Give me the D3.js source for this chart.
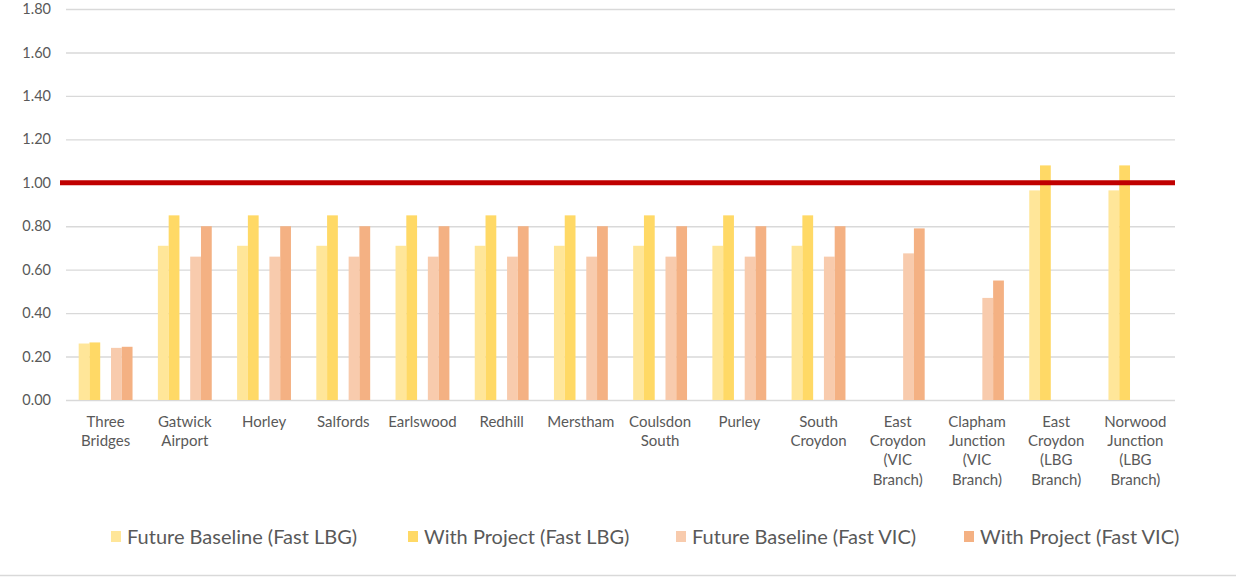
<!DOCTYPE html>
<html><head><meta charset="utf-8">
<script src="https://cdn.jsdelivr.net/npm/d3@7"></script>
<style>body{margin:0;background:#fff;} svg{display:block;font-family:Lato, "Liberation Sans", sans-serif;}</style>
</head><body>
<svg id="c" width="1236" height="577"></svg>
<script>
const categories = [
  ["Three","Bridges"],["Gatwick","Airport"],["Horley"],["Salfords"],["Earlswood"],["Redhill"],
  ["Merstham"],["Coulsdon","South"],["Purley"],["South","Croydon"],
  ["East","Croydon","(VIC","Branch)"],["Clapham","Junction","(VIC","Branch)"],
  ["East","Croydon","(LBG","Branch)"],["Norwood","Junction","(LBG","Branch)"]
];
const seriesNames = ["Future Baseline (Fast LBG)","With Project (Fast LBG)","Future Baseline (Fast VIC)","With Project (Fast VIC)"];
const fbLBG = [0.26,0.71,0.71,0.71,0.71,0.71,0.71,0.71,0.71,0.71,null,null,0.965,0.965];
const wpLBG = [0.265,0.85,0.85,0.85,0.85,0.85,0.85,0.85,0.85,0.85,null,null,1.08,1.08];
const fbVIC = [0.24,0.66,0.66,0.66,0.66,0.66,0.66,0.66,0.66,0.66,0.675,0.47,null,null];
const wpVIC = [0.245,0.80,0.80,0.80,0.80,0.80,0.80,0.80,0.80,0.80,0.79,0.55,null,null];
const yTicks = [0,0.2,0.4,0.6,0.8,1.0,1.2,1.4,1.6,1.8];
const threshold = 1.0;
const colors = ["#ffe699","#ffd966","#f8cbad","#f4b183"];

const svg = d3.select("#c");
const pL = 66, pR = 1175, pT = 9, pB = 400;
const x = d3.scaleBand().domain(d3.range(categories.length)).range([pL,pR]).paddingInner(0.32).paddingOuter(0.16);
const slot = d3.scaleBand().domain([0,1,2,3,4]).range([0,x.bandwidth()]);
const slotIdx = [0,1,3,4];
const y = d3.scaleLinear().domain([0,1.8]).range([pB,pT]);

// gridlines
svg.append("g").selectAll("line").data(yTicks).join("line")
  .attr("x1",pL).attr("x2",pR)
  .attr("y1",d=>y(d)+0.5).attr("y2",d=>y(d)+0.5)
  .attr("stroke","#d9d9d9").attr("stroke-width",1.4);

// y axis labels
const yAxis = d3.axisLeft(y).tickValues(yTicks).tickFormat(d3.format(".2f")).tickSize(0).tickPadding(15);
const ya = svg.append("g").attr("transform",`translate(${pL},0)`).call(yAxis);
ya.select(".domain").remove();
ya.selectAll("text").attr("fill","#595959").style("font-size","14.5px").style("font-family","Lato, sans-serif");

// bars
const allSeries = [fbLBG,wpLBG,fbVIC,wpVIC];
allSeries.forEach((vals,si)=>{
  svg.append("g").selectAll("rect").data(vals.map((v,i)=>({v,i})).filter(d=>d.v!=null)).join("rect")
    .attr("x",d=>x(d.i)+slot(slotIdx[si]))
    .attr("width",slot.bandwidth())
    .attr("y",d=>y(d.v))
    .attr("height",d=>y(0)-y(d.v))
    .attr("fill",colors[si]);
});

// threshold line
svg.append("line").attr("x1",60).attr("x2",pR)
  .attr("y1",y(threshold)).attr("y2",y(threshold))
  .attr("stroke","#c00000").attr("stroke-width",5);

// category labels
const xa = svg.append("g");
categories.forEach((lines,i)=>{
  const t = xa.append("text").attr("text-anchor","middle").attr("fill","#595959")
    .style("font-size","15px");
  lines.forEach((ln,j)=>{
    t.append("tspan").attr("x",x(i)+x.bandwidth()/2).attr("y",427+j*19.2).text(ln);
  });
});

// legend
const legX = [111,408,676,964];
const lg = svg.append("g");
seriesNames.forEach((n,i)=>{
  lg.append("rect").attr("x",legX[i]).attr("y",531).attr("width",10).attr("height",11).attr("fill",colors[i]);
  lg.append("text").attr("x",legX[i]+16).attr("y",543.5).attr("fill","#595959")
    .style("font-size","20px").text(n);
});

// bottom border line
svg.append("line").attr("x1",0).attr("x2",1236).attr("y1",575.5).attr("y2",575.5).attr("stroke","#d9d9d9").attr("stroke-width",1.5);
</script>
</body></html>
